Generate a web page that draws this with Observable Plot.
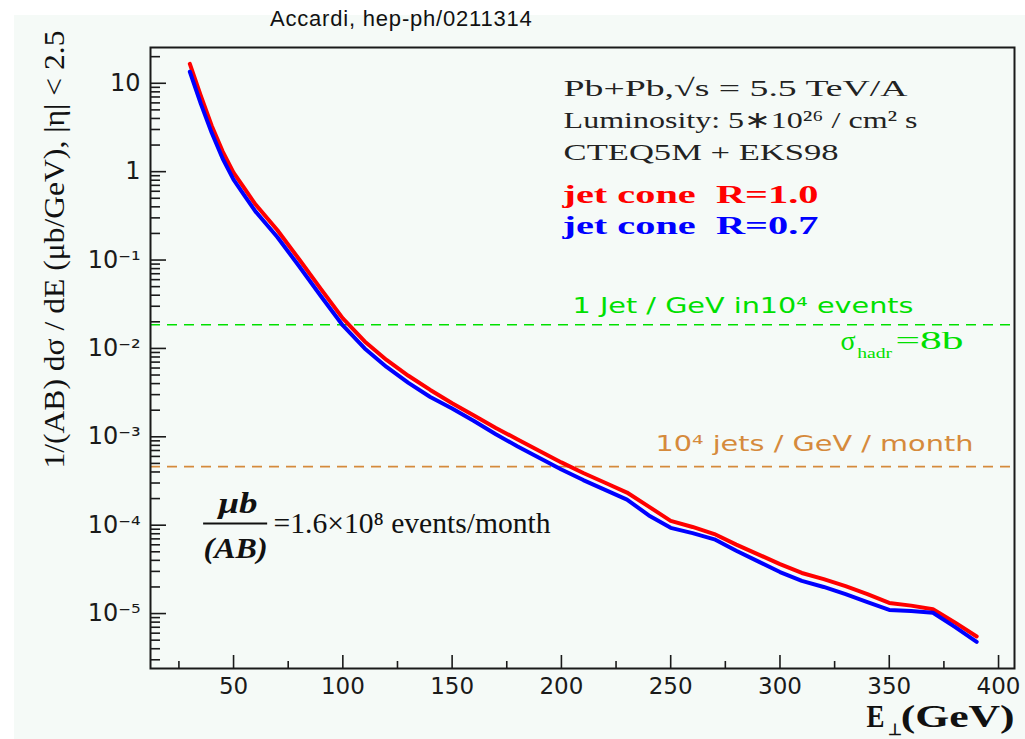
<!DOCTYPE html>
<html><head><meta charset="utf-8">
<script src="https://cdn.jsdelivr.net/npm/d3@7"></script>
<script src="https://cdn.jsdelivr.net/npm/@observablehq/plot@0.6"></script>
<style>
body{margin:0;background:#fff;width:1025px;height:739px;overflow:hidden;position:relative;font-family:"Liberation Sans",Arial,sans-serif}
#title{position:absolute;left:270px;top:6px;font-size:22px;letter-spacing:0.8px;color:#111;z-index:2;white-space:nowrap}
#chart{position:absolute;left:14px;top:15px}
#chart svg{display:block}
</style></head><body>
<div id="title">Accardi, hep-ph/0211314</div>
<div id="chart"></div>
<script>
// ---- data ----
const energies = [30,35,40,45,50,55,60,70,80,90,100,110,120,130,140,150,160,170,180,190,200,210,220,230,240,250,260,270,280,290,300,310,320,330,340,350,360,370,380,390];
const coneR10 = [16.6,7.24,3.31,1.70,0.977,0.646,0.427,0.219,0.102,0.0468,0.0219,0.0120,7.41e-3,4.90e-3,3.39e-3,2.40e-3,1.74e-3,1.26e-3,9.33e-4,6.92e-4,5.13e-4,3.89e-4,3.02e-4,2.34e-4,1.62e-4,1.12e-4,9.55e-5,7.94e-5,6.03e-5,4.68e-5,3.63e-5,2.88e-5,2.45e-5,2.04e-5,1.66e-5,1.32e-5,1.23e-5,1.12e-5,7.94e-6,5.50e-6];
const coneR07 = [13.5,5.89,2.75,1.41,0.813,0.537,0.355,0.182,0.0851,0.0389,0.0182,0.0100,6.17e-3,4.07e-3,2.82e-3,2.09e-3,1.51e-3,1.07e-3,7.76e-4,5.75e-4,4.27e-4,3.24e-4,2.51e-4,1.95e-4,1.29e-4,9.33e-5,8.13e-5,6.92e-5,5.13e-5,3.89e-5,2.95e-5,2.34e-5,2.00e-5,1.66e-5,1.35e-5,1.10e-5,1.07e-5,1.02e-5,7.08e-6,4.79e-6];
const jetPerGeVLevel = [0.0185];   // 1 Jet / GeV in 10^4 events
const jetsPerMonthLevel = [4.6e-4]; // 10^4 jets / GeV / month
const xTicks = [50,100,150,200,250,300,350,400];
const xMinorTicks = [25,75,125,175,225,275,325,375];
const yTicks = [1e-5,1e-4,1e-3,1e-2,1e-1,1,10];
const yTickLabels = ["10\u207B\u2075","10\u207B\u2074","10\u207B\u00B3","10\u207B\u00B2","10\u207B\u00B9","1","10"];
const xDomain = [12, 407.3];
const yDomain = [2.39e-6, 25.4];

// ---- layout ----
const W = 1011, H = 724, ML = 136, MR = 11, MT = 32, MB = 71;
const innerW = W - ML - MR, innerH = H - MT - MB;

const red = energies.map((e, i) => ({E: e, v: coneR10[i]}));
const blue = energies.map((e, i) => ({E: e, v: coneR07[i]}));
const yMinor = [];
for (let d = -6; d <= 1; d++) for (let m = 2; m <= 9; m++) {
  const v = m * Math.pow(10, d);
  if (v > yDomain[0] && v < yDomain[1]) yMinor.push(v);
}

// annotation anchors (data coordinates)
const A = {
  pb:   {x: 201.0, y: 8.87,  t: "Pb+Pb,\u221As = 5.5 TeV/A"},
  lum:  {x: 201.0, y: 3.85,  t: "Luminosity: 5\u221710\u00B2\u2076 / cm\u00B2 s"},
  pdf:  {x: 201.0, y: 1.675, t: "CTEQ5M + EKS98"},
  r10:  {x: 200.5, y: 0.547, t: "jet cone\u00A0\u00A0R=1.0"},
  r07:  {x: 200.5, y: 0.244, t: "jet cone\u00A0\u00A0R=0.7"},
  g1:   {x: 205.1, y: 0.0303, t: "1 Jet / GeV in10\u2074 events"},
  sig:  {x: 327.7, y: 0.01219, t: "\u03C3"},
  hadr: {x: 335.3, y: 0.00871, t: "hadr"},
  eq8:  {x: 352.8, y: 0.01219, t: "=8b"},
  o1:   {x: 243.0, y: 8.34e-4, t: "10\u2074 jets / GeV / month"},
  mub:  {x: 43.1, y: 1.786e-4, t: "\u03BCb"},
  ab:   {x: 36.3, y: 5.40e-5, t: "(AB)"},
  ev:   {x: 68.3, y: 1.061e-4, t: "=1.6\u00D710\u2078 events/month"},
  xE:   {x: 339.6, y: 6.84e-7, t: "E"},
  xP:   {x: 349.2, y: 4.89e-7, t: "\u22A5"},
  xG:   {x: 355.2, y: 6.84e-7, t: "(GeV)"},
  yl:   {x: -32.0, y: 39.5, t: "1/(AB) d\u03C3 / dE (\u03BCb/GeV), |\u03B7| < 2.5"}
};
const fracBar = [{y: 1.044e-4, x1: 36.3, x2: 65.6}];

const serif = "Liberation Serif";
const sans = "DejaVu Sans";
function note(key, opts) {
  return Plot.text([A[key]], {x: "x", y: "y", text: "t", textAnchor: "start", lineAnchor: "middle", className: "n-" + key, ...opts});
}
const widths = {pb: 344, lum: 354, pdf: 275, r10: 256, r07: 256, g1: 341, hadr: 35, eq8: 68, o1: 318, mub: 39, ab: 64, ev: 277, xE: 18, xG: 114, yl: 438};

const green = "#00e000", orange = "#d58a3c";

const chart = Plot.plot({
  width: W, height: H,
  marginLeft: ML, marginRight: MR, marginTop: MT, marginBottom: MB,
  style: {background: "#f5faf7", fontFamily: sans, color: "#1a1a1a", overflow: "visible"},
  x: {domain: xDomain},
  y: {type: "log", domain: yDomain},
  marks: [
    Plot.ruleY(jetPerGeVLevel, {y: d => d, stroke: green, strokeWidth: 1.6, strokeDasharray: "10,7"}),
    Plot.ruleY(jetsPerMonthLevel, {y: d => d, stroke: orange, strokeWidth: 1.8, strokeDasharray: "10,7"}),
    Plot.line(red, {x: "E", y: "v", stroke: "#ff0000", strokeWidth: 4}),
    Plot.line(blue, {x: "E", y: "v", stroke: "#0000ff", strokeWidth: 4}),
    Plot.tickY(yTicks, {y: d => d, insetRight: innerW - 16, stroke: "#1a1a1a", strokeWidth: 1.6}),
    Plot.tickY(yMinor, {y: d => d, insetRight: innerW - 10, stroke: "#1a1a1a", strokeWidth: 1.6}),
    Plot.tickX(xTicks, {x: d => d, insetTop: innerH - 13, stroke: "#1a1a1a", strokeWidth: 1.6}),
    Plot.tickX(xMinorTicks, {x: d => d, insetTop: innerH - 7, stroke: "#1a1a1a", strokeWidth: 1.6}),
    Plot.frame({stroke: "#1a1a1a", strokeWidth: 2}),
    Plot.axisY(yTicks, {tickSize: 0, tickPadding: 10, fontSize: 24, label: null, tickFormat: d => yTickLabels[yTicks.indexOf(d)]}),
    Plot.axisX(xTicks, {tickSize: 0, tickPadding: 9, fontSize: 23, label: null}),
    note("pb", {fontFamily: serif, fontSize: 24, fill: "#222"}),
    note("lum", {fontFamily: serif, fontSize: 24, fill: "#222"}),
    note("pdf", {fontFamily: serif, fontSize: 24, fill: "#222"}),
    note("r10", {fontFamily: serif, fontSize: 25, fontWeight: "bold", fill: "#ff0000"}),
    note("r07", {fontFamily: serif, fontSize: 25, fontWeight: "bold", fill: "#0000ff"}),
    note("g1", {fontFamily: sans, fontSize: 21, fill: green}),
    note("sig", {fontFamily: serif, fontSize: 28, fill: green}),
    note("hadr", {fontFamily: serif, fontSize: 14, fill: green}),
    note("eq8", {fontFamily: serif, fontSize: 26, fill: green}),
    note("o1", {fontFamily: sans, fontSize: 21, fill: orange}),
    note("mub", {fontFamily: serif, fontSize: 30, fontWeight: "bold", fontStyle: "italic", fill: "#111"}),
    note("ab", {fontFamily: serif, fontSize: 30, fontWeight: "bold", fontStyle: "italic", fill: "#111"}),
    note("ev", {fontFamily: serif, fontSize: 30, fill: "#111"}),
    Plot.ruleY(fracBar, {y: "y", x1: "x1", x2: "x2", stroke: "#111", strokeWidth: 2}),
    note("xE", {fontFamily: serif, fontSize: 32, fontWeight: "bold", fill: "#111"}),
    note("xP", {fontFamily: serif, fontSize: 16, fontWeight: "bold", fill: "#111"}),
    note("xG", {fontFamily: serif, fontSize: 32, fontWeight: "bold", fill: "#111"}),
    note("yl", {fontFamily: serif, fontSize: 30, fill: "#111", rotate: -90, textAnchor: "end"})
  ]
});
document.getElementById("chart").appendChild(chart);
const svg = d3.select(chart);
for (const [k, w] of Object.entries(widths)) {
  svg.selectAll(".n-" + k + " text").attr("textLength", w).attr("lengthAdjust", "spacingAndGlyphs");
}
</script>
</body></html>
